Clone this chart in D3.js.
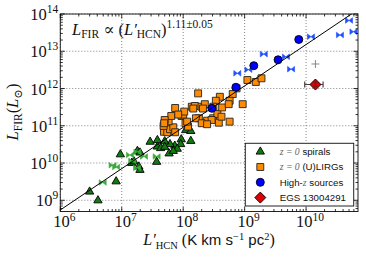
<!DOCTYPE html>
<html>
<head>
<meta charset="utf-8">
<script src="https://cdn.jsdelivr.net/npm/d3@7"></script>
<style>
body { margin: 0; background: #fff; }
svg { display: block; }
</style>
</head>
<body>
<div id="chart"></div>
<script>
// DATA: [L'HCN (K km s^-1 pc^2), LFIR (Lsun)]
const spirals = [
	[3.0e6, 1.7e9], [4.1e6, 9.9e8], [8.1e6, 3.2e9], [9.5e6, 1.7e10], [1.45e7, 1.0e10],
	[1.8e7, 2.1e10], [1.98e7, 1.9e10], [1.58e7, 1.1e10], [1.9e7, 8.0e9], [1.98e7, 6.5e9],
	[2.9e7, 3.7e10], [3.8e7, 2.75e10], [3.7e7, 1.07e10], [1.33e8, 3.9e10], [9.3e7, 4.3e10],
	[9.1e7, 3.2e10], [7.3e7, 2.9e10], [8.0e7, 2.4e10], [6.1e7, 3.2e10], [5.0e7, 3.8e10],
	[4.3e7, 2.5e10], [5.9e7, 1.8e10], [6.9e7, 2.1e10], [1.1e8, 7.6e10], [1.33e8, 7.2e10],
	[5.0e7, 2.7e10], [3.8e7, 4.1e10]
];
const spiralsBowtie = [
	[4.9e6, 3.0e9], [7.1e6, 8.7e9], [8.1e6, 7.8e9], [1.36e7, 1.64e10], [1.48e7, 1.14e10],
	[1.8e7, 2.0e10], [2.3e7, 1.5e10], [3.7e7, 1.5e10], [1.77e7, 7.4e9]
];
const ulirgs = [
	[4.86e7, 6.9e10], [5.5e7, 6.7e10], [6.1e7, 8.1e10], [6.9e7, 9.1e10], [7.4e7, 6.7e10],
	[4.8e7, 9.9e10], [5.8e7, 1.32e11], [6.4e7, 1.83e11], [7.4e7, 3.0e11], [9.4e7, 1.83e11],
	[1.0e8, 1.98e11], [1.09e8, 1.17e11], [1.38e8, 3.25e11], [1.55e8, 3.4e11], [1.8e8, 1.59e11],
	[1.99e8, 3.25e11], [2.45e8, 1.37e11], [3.07e8, 1.59e11], [3.8e8, 1.21e11], [3.6e8, 2.07e11],
	[1.2e8, 9.5e10], [1.75e8, 7.4e11], [1.11e9, 1.69e12], [7.4e8, 1.01e12], [6.4e8, 7.1e11],
	[3.95e8, 6.0e11], [5.7e8, 4.7e11], [4.3e8, 3.1e11], [5.5e8, 3.8e11], [3.4e8, 4.7e11],
	[3.1e8, 3.25e11], [2.25e8, 3.8e11], [2.1e8, 2.9e11], [1.46e8, 2.9e11], [1.04e8, 2.4e11],
	[8.3e7, 2.0e11], [1.16e8, 1.29e11], [1.61e8, 1.59e11], [5.0e7, 1.43e11], [4.9e7, 1.17e11],
	[4.2e8, 1.75e11], [5.7e8, 1.29e11], [2.9e8, 1.43e11], [2.0e8, 1.17e11], [1.52e9, 1.5e12],
	[1.88e9, 1.88e12], [9.3e8, 3.8e11], [2.45e8, 1.1e11]
];
const highz = [
	[7.6e9, 2.07e13], [3.5e9, 5.9e12], [1.41e9, 4.1e12], [7.2e8, 1.08e12], [2.93e8, 2.94e11]
];
const highzBowtie = [
	[1.2e10, 2.46e13], [2.05e9, 8.4e12], [4.7e9, 7.1e12], [1.15e9, 3.2e12], [7.6e8, 2.56e12],
	[5.7e9, 3.3e12], [3.56e10, 2.73e13], [5.0e10, 6.7e13], [5.9e10, 3.35e13]
];
const egs = [[1.42e10, 1.28e12]];
const egsErrX = [9.5e9, 1.89e10];
const egsErrY = [1.1e12, 1.5e12];
const grayPlus = [[1.42e10, 4.55e12]];
const fitSlope = 1.11;
const fitNorm = 2.08;   // log10 intercept
const xTickVals = [1e6, 1e7, 1e8, 1e9, 1e10];
const yTickVals = [1e9, 1e10, 1e11, 1e12, 1e13, 1e14];
const legendLabels = [
	{ pre: "", math: "z = 0", post: " spirals" },
	{ pre: "", math: "z = 0", post: " (U)LIRGs" },
	{ pre: "High-", math: "z", post: " sources" },
	{ pre: "EGS 13004291", math: "", post: "" }
];

// 1: SET GLOBAL VARIABLES
const margin = { top: 14, right: 8, bottom: 50.5, left: 60.3 };
const width = 366 - margin.left - margin.right;
const height = 262 - margin.top - margin.bottom;

const svg = d3.select("#chart")
	.append("svg")
		.attr("width", 366)
		.attr("height", 262);

const plot = svg.append("g")
	.attr("transform", `translate(${margin.left},${margin.top})`);

// 2: SCALES
const xScale = d3.scaleLog().domain([1e6, 7e10]).range([0, width]);
const yScale = d3.scaleLog().domain([5e8, 1e14]).range([height, 0]);

// 3: GRID
plot.selectAll(".gx").data(xTickVals).enter().append("line")
	.attr("x1", d => xScale(d)).attr("x2", d => xScale(d))
	.attr("y1", 0).attr("y2", height)
	.attr("stroke", "#666").attr("stroke-width", 0.8)
	.attr("stroke-dasharray", "1,2");
plot.selectAll(".gy").data(yTickVals).enter().append("line")
	.attr("y1", d => yScale(d)).attr("y2", d => yScale(d))
	.attr("x1", 0).attr("x2", width)
	.attr("stroke", "#666").attr("stroke-width", 0.8)
	.attr("stroke-dasharray", "1,2");

// 4: MARKS
const clip = svg.append("defs").append("clipPath").attr("id", "clip");
clip.append("rect").attr("width", width).attr("height", height);
const marks = plot.append("g").attr("clip-path", "url(#clip)");

const triangle = d3.symbol().type(d3.symbolTriangle).size(30);
const square = d3.symbol().type(d3.symbolSquare).size(48);
const bowtie = "M-3.5,-2.8L3.5,2.8L3.5,-2.8L-3.5,2.8Z";
const diamond = "M0,-5.5L5.5,0L0,5.5L-5.5,0Z";

marks.selectAll(".sp").data(spirals).enter().append("path")
	.attr("d", triangle)
	.attr("transform", d => `translate(${xScale(d[0])},${yScale(d[1])})`)
	.attr("fill", "#117a11").attr("stroke", "#000").attr("stroke-width", 0.9);

marks.selectAll(".spb").data(spiralsBowtie).enter().append("path")
	.attr("d", bowtie)
	.attr("transform", d => `translate(${xScale(d[0])},${yScale(d[1])})`)
	.attr("fill", "#3aaa3a").attr("stroke", "#3aaa3a").attr("stroke-width", 0.6);

marks.selectAll(".ul").data(ulirgs).enter().append("path")
	.attr("d", square)
	.attr("transform", d => `translate(${xScale(d[0])},${yScale(d[1])})`)
	.attr("fill", "#ff8c00").attr("stroke", "#222").attr("stroke-width", 0.9);

marks.selectAll(".hzb").data(highzBowtie).enter().append("path")
	.attr("d", bowtie)
	.attr("transform", d => `translate(${xScale(d[0])},${yScale(d[1])})`)
	.attr("fill", "#2050ff").attr("stroke", "#2050ff").attr("stroke-width", 0.6);

marks.selectAll(".hz").data(highz).enter().append("circle")
	.attr("cx", d => xScale(d[0])).attr("cy", d => yScale(d[1]))
	.attr("r", 4)
	.attr("fill", "#0000ff").attr("stroke", "#000").attr("stroke-width", 0.9);

// gray plus
grayPlus.forEach(d => {
	const cx = xScale(d[0]), cy = yScale(d[1]);
	marks.append("path")
		.attr("d", `M${cx - 4},${cy}H${cx + 4}M${cx},${cy - 4}V${cy + 4}`)
		.attr("stroke", "#888").attr("stroke-width", 1);
});

// EGS with error bars
egs.forEach(d => {
	const cx = xScale(d[0]), cy = yScale(d[1]);
	const x0 = xScale(egsErrX[0]), x1 = xScale(egsErrX[1]);
	const y0 = yScale(egsErrY[0]), y1 = yScale(egsErrY[1]);
	marks.append("path")
		.attr("d", `M${x0},${cy}H${x1}M${x0},${cy - 3}V${cy + 3}M${x1},${cy - 3}V${cy + 3}`)
		.attr("stroke", "#444").attr("stroke-width", 1.2).attr("fill", "none");
	marks.append("path")
		.attr("d", diamond)
		.attr("transform", `translate(${cx},${cy})`)
		.attr("fill", "#e00000").attr("stroke", "#000").attr("stroke-width", 0.9);
	marks.append("path")
		.attr("d", `M${cx},${y0}V${y1}M${cx - 2.5},${y0}H${cx + 2.5}M${cx - 2.5},${y1}H${cx + 2.5}`)
		.attr("stroke", "#333").attr("stroke-width", 1).attr("fill", "none");
});

// fit line
const fitX = [1e6, 7e10];
const fitLine = d3.line()
	.x(d => xScale(d))
	.y(d => yScale(Math.pow(10, fitNorm + fitSlope * Math.log10(d))));
marks.append("path")
	.datum(fitX)
	.attr("d", fitLine)
	.attr("fill", "none").attr("stroke", "#000").attr("stroke-width", 1);

// 5: AXES (frame + inward ticks)
plot.append("rect")
	.attr("width", width).attr("height", height)
	.attr("fill", "none").attr("stroke", "#222").attr("stroke-width", 1);

function minors(domain) {
	const out = [];
	for (let e = Math.floor(Math.log10(domain[0])); e <= Math.ceil(Math.log10(domain[1])); e++) {
		for (let k = 2; k <= 9; k++) {
			const v = k * Math.pow(10, e);
			if (v > domain[0] && v < domain[1]) out.push(v);
		}
	}
	return out;
}
const xMinor = minors(xScale.domain());
const yMinor = minors(yScale.domain());
const ticks = plot.append("g").attr("stroke", "#000").attr("stroke-width", 0.8);

[[xTickVals, 4.5], [xMinor, 2.5]].forEach(([vals, len]) => {
	vals.forEach(v => {
		const x = xScale(v);
		ticks.append("line").attr("x1", x).attr("x2", x).attr("y1", height).attr("y2", height - len);
		ticks.append("line").attr("x1", x).attr("x2", x).attr("y1", 0).attr("y2", len);
	});
});
[[yTickVals, 4.5], [yMinor, 2.5]].forEach(([vals, len]) => {
	vals.forEach(v => {
		const y = yScale(v);
		ticks.append("line").attr("y1", y).attr("y2", y).attr("x1", 0).attr("x2", len);
		ticks.append("line").attr("y1", y).attr("y2", y).attr("x1", width).attr("x2", width - len);
	});
});

// tick labels
const serif = "'Liberation Serif', 'DejaVu Serif', serif";
xTickVals.forEach(v => {
	const t = plot.append("text")
		.attr("x", xScale(v) + 4)
		.attr("y", height + 15.8)
		.attr("text-anchor", "middle")
		.style("font-family", serif)
		.style("font-size", "16.5px")
		.style("fill", "#111");
	t.append("tspan").text("10");
	t.append("tspan").attr("dy", -6.5).style("font-size", "11.5px").text(Math.round(Math.log10(v)));
});
yTickVals.forEach(v => {
	const t = plot.append("text")
		.attr("x", -2)
		.attr("y", yScale(v) + 6)
		.attr("text-anchor", "end")
		.style("font-family", serif)
		.style("font-size", "16.5px")
		.style("fill", "#111");
	t.append("tspan").text("10");
	t.append("tspan").attr("dy", -7).style("font-size", "11.5px").text(Math.round(Math.log10(v)));
});

// 6: LABELS
const sans = "'Liberation Sans', 'DejaVu Sans', sans-serif";
const xl = svg.append("text")
	.attr("x", 209)
	.attr("y", 244.5)
	.attr("text-anchor", "middle")
	.style("font-family", serif)
	.style("font-size", "16px")
	.style("fill", "#111");
xl.append("tspan").style("font-style", "italic").text("L′");
xl.append("tspan").style("font-size", "10.5px").attr("dy", 4).text("HCN");
xl.append("tspan").attr("dy", -4).text(" (");
xl.append("tspan").style("font-family", sans).style("font-size", "15px").text("K km s");
xl.append("tspan").style("font-size", "10.5px").attr("dy", -5).text("−1");
xl.append("tspan").style("font-family", sans).style("font-size", "15px").attr("dy", 5).text(" pc");
xl.append("tspan").style("font-size", "10.5px").attr("dy", -5).text("2");
xl.append("tspan").attr("dy", 5).text(")");

const yl = svg.append("text")
	.attr("transform", "translate(18,112) rotate(-90)")
	.attr("text-anchor", "middle")
	.style("font-family", serif)
	.style("font-size", "16.5px")
	.style("fill", "#111");
yl.append("tspan").style("font-style", "italic").text("L");
yl.append("tspan").style("font-size", "11.5px").attr("dy", 3.5).text("FIR");
yl.append("tspan").attr("dy", -3.5).text("(");
yl.append("tspan").style("font-style", "italic").text("L");
yl.append("tspan").style("font-size", "11.5px").attr("dy", 3.5).text("⊙");
yl.append("tspan").attr("dy", -3.5).text(")");

// title relation
const tt = svg.append("text")
	.attr("x", 72)
	.attr("y", 34.7)
	.style("font-family", serif)
	.style("font-size", "16.5px")
	.style("fill", "#111");
tt.append("tspan").style("font-style", "italic").text("L");
tt.append("tspan").style("font-size", "11.5px").attr("dy", 3).text("FIR");
tt.append("tspan").attr("dy", -3).text(" ∝ (");
tt.append("tspan").style("font-style", "italic").text("L′");
tt.append("tspan").style("font-size", "11.5px").attr("dy", 3.5).text("HCN");
tt.append("tspan").attr("dy", -3.5).text(")");
tt.append("tspan").style("font-size", "11.5px").attr("dy", -7).text("1.11±0.05");

// 7: LEGEND
const legend = svg.append("g").attr("transform", "translate(245.3,143.3)");
legend.append("rect")
	.attr("width", 108.4).attr("height", 62.7)
	.attr("fill", "#fff").attr("stroke", "#222").attr("stroke-width", 1);
const legendMarks = [
	g => g.append("path").attr("d", triangle).attr("fill", "#117a11").attr("stroke", "#000").attr("stroke-width", 0.9),
	g => g.append("path").attr("d", square).attr("fill", "#ff8c00").attr("stroke", "#222").attr("stroke-width", 0.9),
	g => g.append("circle").attr("r", 4).attr("fill", "#0000ff").attr("stroke", "#000").attr("stroke-width", 0.9),
	g => g.append("path").attr("d", diamond).attr("fill", "#e00000").attr("stroke", "#000").attr("stroke-width", 0.9)
];
legendLabels.forEach((d, i) => {
	const y = 8.4 + i * 15.3;
	const g = legend.append("g").attr("transform", `translate(15,${y})`);
	legendMarks[i](g);
	const t = legend.append("text")
		.attr("x", 34.4)
		.attr("y", y + 3.5)
		.style("font-family", sans)
		.style("font-size", "9.7px")
		.style("fill", "#111");
	if (d.pre) t.append("tspan").text(d.pre);
	if (d.math) {
		t.append("tspan").style("font-family", serif).style("font-style", "italic")
			.style("fill", "#666").text(d.math);
	}
	if (d.post) t.append("tspan").text(d.post);
});
</script>
</body>
</html>
